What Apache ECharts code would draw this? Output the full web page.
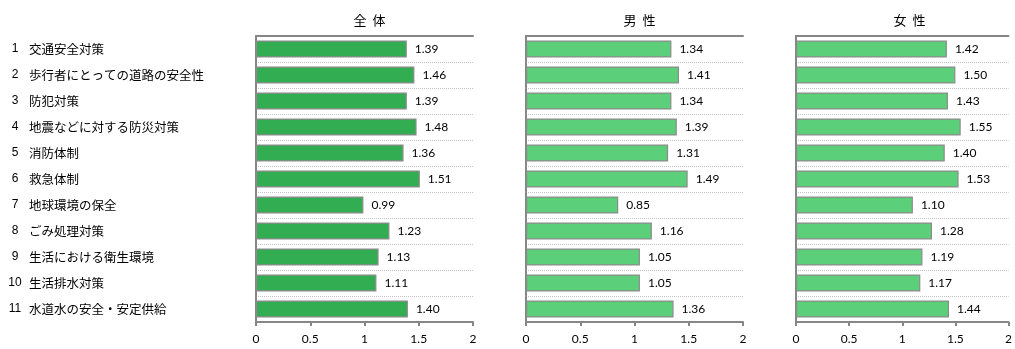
<!DOCTYPE html>
<html><head><meta charset="utf-8">
<script src="https://cdn.jsdelivr.net/npm/echarts@6/dist/echarts.min.js"></script>
<style>html,body{margin:0;padding:0;background:#fff}#c{width:1015px;height:349px}</style>
</head><body><div id="c"></div>
<script>
const categories = ['交通安全対策','歩行者にとっての道路の安全性','防犯対策','地震などに対する防災対策','消防体制','救急体制','地球環境の保全','ごみ処理対策','生活における衛生環境','生活排水対策','水道水の安全・安定供給'];
const panelTitles = ['全  体','男  性','女  性'];
const totalValues = [1.39,1.46,1.39,1.48,1.36,1.51,0.99,1.23,1.13,1.11,1.40];
const maleValues = [1.34,1.41,1.34,1.39,1.31,1.49,0.85,1.16,1.05,1.05,1.36];
const femaleValues = [1.42,1.50,1.43,1.55,1.40,1.53,1.10,1.28,1.19,1.17,1.44];
const xTicks = [0,0.5,1,1.5,2];

const seriesData = [totalValues, maleValues, femaleValues];
const colors = ['#33ad52','#5bcf7a','#5bcf7a'];
const lefts = [256, 526, 796];
const W = 217, TOP = 36, H = 286;
const numFont = 'Lato, "Liberation Sans", sans-serif';
const jpFont = '"Noto Sans CJK JP", sans-serif';

const grids = [], xAxes = [], yAxes = [], series = [], titles = [];
for (let i = 0; i < 3; i++) {
  grids.push({left: lefts[i], top: TOP, width: W, height: H, containLabel: false});
  titles.push({text: panelTitles[i], left: lefts[i] + W/2, top: 9, textAlign: 'center',
    textStyle: {fontFamily: jpFont, fontSize: 13, fontWeight: 'normal', color: '#000'}});
  xAxes.push({type: 'value', gridIndex: i, min: xTicks[0], max: xTicks[xTicks.length-1], interval: 0.5, position: 'bottom',
    axisLine: {show: true, lineStyle: {color: '#868686', width: 2}},
    axisTick: {show: true, length: 4, lineStyle: {color: '#868686', width: 2}},
    axisLabel: {margin: 11, fontFamily: numFont, fontSize: 12, color: '#000',
      formatter: v => xTicks.indexOf(v) >= 0 ? String(v) : ''},
    splitLine: {show: false}});
  xAxes.push({type: 'value', gridIndex: i, min: 0, max: 2, position: 'top',
    axisLine: {show: true, onZero: false, lineStyle: {color: '#868686', width: 2}},
    axisTick: {show: false}, axisLabel: {show: false}, splitLine: {show: false}});
  yAxes.push({type: 'category', gridIndex: i, data: categories, inverse: true,
    axisLine: {show: true, lineStyle: {color: '#868686', width: 2}},
    axisTick: {show: false},
    splitLine: {show: true, lineStyle: {color: '#c2c2c2', type: [1,1], width: 1}},
    axisLabel: i === 0 ? {
      show: true, margin: 248, align: 'left',
      formatter: (v, idx) => '{n|' + (idx + 1) + '}{t|' + v + '}',
      rich: {
        n: {width: 14, align: 'right', fontFamily: '"Liberation Sans", sans-serif', fontSize: 12, color: '#000'},
        t: {padding: [0,0,0,7], fontFamily: jpFont, fontSize: 12.5, color: '#000'}
      }
    } : {show: false}});
  series.push({type: 'bar', xAxisIndex: i*2, yAxisIndex: i, data: seriesData[i], barWidth: 17,
    itemStyle: {color: colors[i], borderColor: '#8c8c8c', borderWidth: 1.2},
    label: {show: true, position: 'right', distance: 8, fontFamily: numFont, fontSize: 12, color: '#000',
      formatter: p => p.value.toFixed(2)},
    silent: true, animation: false});
}

const chart = echarts.init(document.getElementById('c'), null, {renderer: 'canvas'});
chart.setOption({animation: false, title: titles, grid: grids, xAxis: xAxes, yAxis: yAxes, series: series});
</script></body></html>
